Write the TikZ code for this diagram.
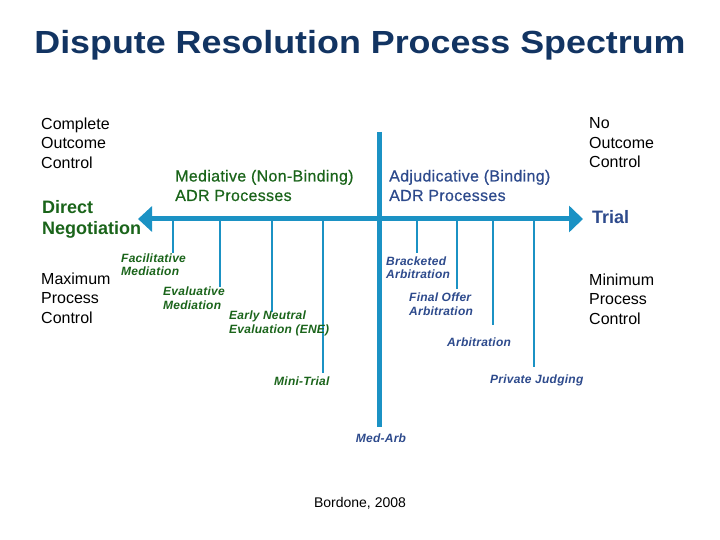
\documentclass[tikz,border=0pt]{standalone}
\usepackage{fontspec}
\setmainfont{Liberation Sans}
\newfontfamily\titlefont[FakeStretch=1.12]{Liberation Sans}
\newfontfamily\catfont[FakeBold=0.6,LetterSpace=2]{Liberation Sans}
\newfontfamily\lblfont[LetterSpace=2]{Liberation Sans}
\usetikzlibrary{arrows.meta}
\definecolor{axisblue}{RGB}{27,146,196}
\definecolor{titlenavy}{RGB}{18,52,98}
\definecolor{dgreen}{RGB}{26,100,26}
\definecolor{tblue}{RGB}{45,74,140}
\begin{document}
\begin{tikzpicture}[x=1pt,y=-1pt,
  plain/.style={anchor=west,align=left,inner sep=0pt,font=\fontsize{16}{19.5}\selectfont},
  bigbold/.style={anchor=west,align=left,inner sep=0pt,font=\fontsize{18}{21}\selectfont\bfseries},
  cat/.style={anchor=west,align=left,inner sep=0pt,font=\catfont\fontsize{16}{19.5}\selectfont},
  lbl/.style={anchor=west,align=left,inner sep=0pt,font=\lblfont\fontsize{12}{13.5}\selectfont\bfseries\itshape},
  tick/.style={draw=axisblue,line width=1.2pt},
]
\useasboundingbox (0,0) rectangle (720,540);
% title
\node[inner sep=0pt,font=\titlefont\fontsize{32}{36}\selectfont\bfseries,text=titlenavy] (title) at (360,45) {Dispute Resolution Process Spectrum};
% axes
\coordinate (L) at (138,219);
\coordinate (R) at (583,219);
\coordinate (vt) at (379,132);
\coordinate (vb) at (379,427);
\draw[axisblue,line width=5pt] (vt) -- (vb);
\draw[axisblue,line width=5pt,{Triangle[width=25pt,length=14pt]}-{Triangle[width=26pt,length=14pt]}] (L) -- (R);
% ticks
\foreach \n/\x/\b in {fac/173/253, eva/220/287, ene/272/312, mini/323/373, brk/417/253, fin/457/289, arb/493/325, prj/534/367}{
  \coordinate (\n t) at (\x,219);
  \coordinate (\n b) at (\x,\b);
  \draw[tick] (\n t) -- (\n b);
}
% side texts
\node[plain] (compl) at (41,143) {Complete\\Outcome\\Control};
\node[bigbold,text=dgreen] (direct) at (42,219.5) {Direct\\Negotiation};
\node[plain] (maxp) at (41,298) {Maximum\\Process\\Control};
\node[plain] (noout) at (589,143) {No\\Outcome\\Control};
\node[bigbold,text=tblue] (trial) at (592,217) {Trial};
\node[plain] (minp) at (589,299) {Minimum\\Process\\Control};
% categories
\node[cat,text=dgreen] (medi) at (175,185.5) {Mediative (Non-Binding)\\ADR Processes};
\node[cat,text=tblue] (adju) at (389,185.5) {Adjudicative (Binding)\\ADR Processes};
% labels
\node[lbl,text=dgreen] (facl) at (121,264.5) {Facilitative\\Mediation};
\node[lbl,text=dgreen] (eval) at (163,298) {Evaluative\\Mediation};
\node[lbl,text=dgreen] (enel) at (229,323.5) {Early Neutral\\Evaluation (ENE)};
\node[lbl,text=dgreen] (minil) at (274,381) {Mini-Trial};
\node[lbl,text=tblue] (brkl) at (386,267.5) {Bracketed\\Arbitration};
\node[lbl,text=tblue] (finl) at (409,304) {Final Offer\\Arbitration};
\node[lbl,text=tblue] (arbl) at (447,342) {Arbitration};
\node[lbl,text=tblue] (prjl) at (490,380) {Private Judging};
\node[lbl,text=tblue,anchor=center] (medarb) at (381,438) {Med-Arb};
\node[inner sep=0pt,font=\fontsize{14}{16}\selectfont] (src) at (360,503) {Bordone, 2008};
\end{tikzpicture}
\end{document}
